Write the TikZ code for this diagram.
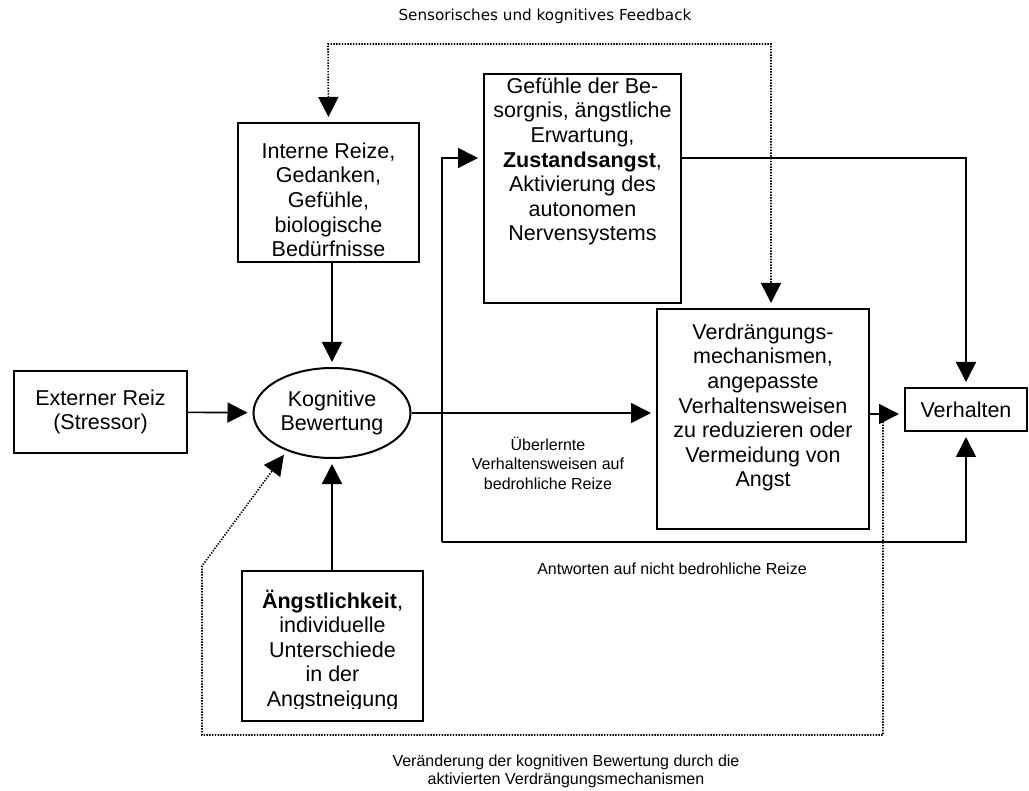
\documentclass[tikz,border=0pt]{standalone}
\usepackage{fontspec}
\setmainfont{Liberation Sans}
\newfontfamily\sensfont{DejaVu Sans}
\usepackage{tikz}
\usetikzlibrary{shapes,arrows.meta,positioning,calc}

\begin{document}
\begin{tikzpicture}[x=0.5pt, y=-0.5pt, line width=0.8pt, >={Triangle[length=10pt,width=10pt]},
	box/.style={draw, line width=1pt, inner sep=0pt},
	boxtext/.style={align=center, inner sep=0pt, font=\fontsize{10.75}{12.3}\selectfont},
	smalltext/.style={align=center, inner sep=0pt, font=\fontsize{8}{9.75}\selectfont},
	arr/.style={->, shorten >=2.5pt},
	dotarr/.style={->, shorten >=2.5pt, shorten <=2.5pt, line width=0.8pt, dash pattern=on 0.7pt off 0.7pt}]
	\useasboundingbox (0,0) rectangle (1029,791);

	\node [box, boxtext, minimum width=86.5pt, minimum height=41pt] (ext) at (100.5,412) {Externer Reiz\\(Stressor)};
	\node [box, boxtext, ellipse, minimum width=78.5pt, minimum height=45pt] (kog) at (332,413) {Kognitive\\Bewertung};

	\node [box, minimum width=90.5pt, minimum height=69.5pt] (intern) at (328.5,192.5) {};
	\node [boxtext, below=10pt of intern.north] (intern-t) {Interne Reize,\\Gedanken,\\Gefühle,\\biologische\\Bedürfnisse};

	\node [box, minimum width=98.5pt, minimum height=114.5pt] (gef) at (582.5,188.5) {};
	\node [boxtext, below=2pt of gef.north] (gef-t) {Gefühle der Be-\\sorgnis, ängstliche\\Erwartung,\\\textbf{Zustandsangst},\\Aktivierung des\\autonomen\\Nervensystems};

	\node [box, minimum width=106pt, minimum height=110pt] (verd) at (763,419) {};
	\node [boxtext, below=7.5pt of verd.north] (verd-t) {Verdrängungs-\\mechanismen,\\angepasste\\Verhaltensweisen\\zu reduzieren oder\\Vermeidung von\\Angst};

	\node [box, boxtext, minimum width=61pt, minimum height=21.5pt] (verh) at (966,409.5) {Verhalten};

	\node [box, minimum width=90.5pt, minimum height=75pt] (angst) at (332.5,646) {};
	\begin{scope}
		\clip (angst.north west) rectangle (angst.east |- 0,708);
		\node [boxtext, below=9.5pt of angst.north] (angst-t) {\textbf{Ängstlichkeit},\\individuelle\\Unterschiede\\in der\\Angstneigung};
	\end{scope}

	% labels
	\node [inner sep=0pt, font=\sensfont\fontsize{7.6}{9}\selectfont] (sens) at (545,16) {Sensorisches und kognitives Feedback};
	\node [smalltext] (ueb) at (548,463) {Überlernte\\Verhaltensweisen auf\\bedrohliche Reize};
	\node [smalltext] (antw) at (672,569) {Antworten auf nicht bedrohliche Reize};
	\node [smalltext, font=\fontsize{8}{9}\selectfont] (veraend) at (566,771) {Veränderung der kognitiven Bewertung durch die\\aktivierten Verdrängungsmechanismen};

	\coordinate (fbL) at (328,44);
	\coordinate (fbR) at (771,44);
	\coordinate (jT) at (442,158);
	\coordinate (jB) at (442,542);
	\coordinate (vv) at (883,414);
	\coordinate (dR) at (883,735);
	\coordinate (dL) at (202,735);
	\coordinate (dK) at (202,566);

	\draw [arr] (ext) -- (kog);
	\draw [arr] (kog.north |- intern.south) -- (kog.north);
	\draw [arr] (kog.south |- angst.north) -- (kog.south);
	\draw [arr] (kog.east) -- (kog.east -| verd.west);
	\draw [arr] (jB) -- (jT) -- (jT -| gef.west);
	\draw [arr] (jB) -| (verh.south);
	\draw [arr] (gef.east |- jT) -| (verh.north);
	\draw [arr] (verd.east |- vv) -- (verh.west |- vv);

	\draw [dotarr, <->] (intern.north) -- (fbL) -- (fbR) -- (verd.north -| fbR);
	\draw [dotarr] (vv) -- (dR) -- (dL) -- (dK) -- (kog.220);
\end{tikzpicture}
\end{document}
